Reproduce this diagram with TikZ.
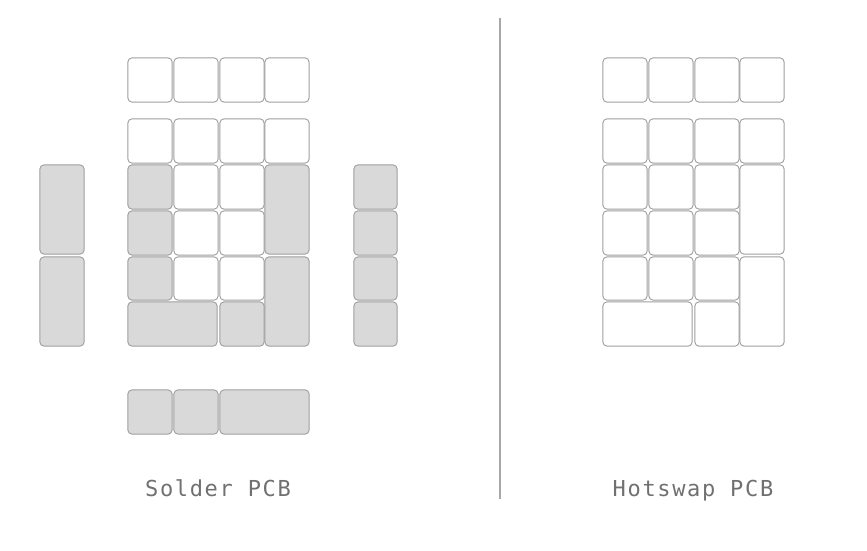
\documentclass[tikz,border=0pt]{standalone}
\usepackage{fontspec}
\newfontfamily\labelfont[LetterSpace=7.5]{DejaVu Sans Mono}
\definecolor{keyline}{HTML}{9E9E9E}
\definecolor{keyfill}{HTML}{D9D9D9}
\definecolor{divline}{HTML}{A8A8A8}
\definecolor{labelcol}{HTML}{707070}
\tikzset{
  keycap/.style={draw=keyline, line width=0.9pt, rounded corners=4pt, fill=white},
  shaded/.style={fill=keyfill},
  pcblabel/.style={text=labelcol, font=\labelfont\fontsize{22}{24}\selectfont, inner sep=0pt, anchor=base}
}
\newcommand\kc[5]{\draw[keycap,#5] (#1+0.9,#2+0.9) rectangle (#1+#3-0.9,#2+#4-0.9);}
\begin{document}
\begin{tikzpicture}[x=1pt,y=-1pt]
\useasboundingbox (0,0) rectangle (867,550);
% ---- Solder PCB ----
\foreach \xx in {127,173,219,264} {\kc{\xx}{57}{46}{46}{}}
\foreach \xx in {127,173,219,264} {\kc{\xx}{118}{46}{46}{}}
\kc{127}{164}{46}{46}{shaded}
\kc{173}{164}{46}{46}{}
\kc{219}{164}{46}{46}{}
\kc{264}{164}{46}{91}{shaded}
\kc{127}{210}{46}{46}{shaded}
\kc{173}{210}{46}{46}{}
\kc{219}{210}{46}{46}{}
\kc{127}{256}{46}{45}{shaded}
\kc{173}{256}{46}{45}{}
\kc{219}{256}{46}{45}{}
\kc{264}{256}{46}{91}{shaded}
\kc{127}{301}{91}{46}{shaded}
\kc{219}{301}{46}{46}{shaded}
% bottom row
\kc{127}{389}{46}{46}{shaded}
\kc{173}{389}{46}{46}{shaded}
\kc{219}{389}{91}{46}{shaded}
% left tall keys
\kc{39}{164}{46}{91}{shaded}
\kc{39}{256}{46}{91}{shaded}
% right column
\kc{353}{164}{45}{46}{shaded}
\kc{353}{210}{45}{46}{shaded}
\kc{353}{256}{45}{45}{shaded}
\kc{353}{301}{45}{46}{shaded}
% ---- Hotswap PCB ----
\foreach \xx in {602,648,694,739} {\kc{\xx}{57}{46}{46}{}}
\foreach \xx in {602,648,694,739} {\kc{\xx}{118}{46}{46}{}}
\foreach \xx in {602,648,694} {\kc{\xx}{164}{46}{46}{}}
\kc{739}{164}{46}{91}{}
\foreach \xx in {602,648,694} {\kc{\xx}{210}{46}{46}{}}
\foreach \xx in {602,648,694} {\kc{\xx}{256}{46}{45}{}}
\kc{739}{256}{46}{91}{}
\kc{602}{301}{91}{46}{}
\kc{694}{301}{46}{46}{}
% divider
\coordinate (dtop) at (500,18);
\coordinate (dbot) at (500,499);
\draw[divline, line width=1.5pt] (dtop) -- (dbot);
% labels
\node[pcblabel] (solder) at (218,496) {Solder PCB};
\node[pcblabel] (hotswap) at (693,496) {Hotswap PCB};
\end{tikzpicture}
\end{document}
